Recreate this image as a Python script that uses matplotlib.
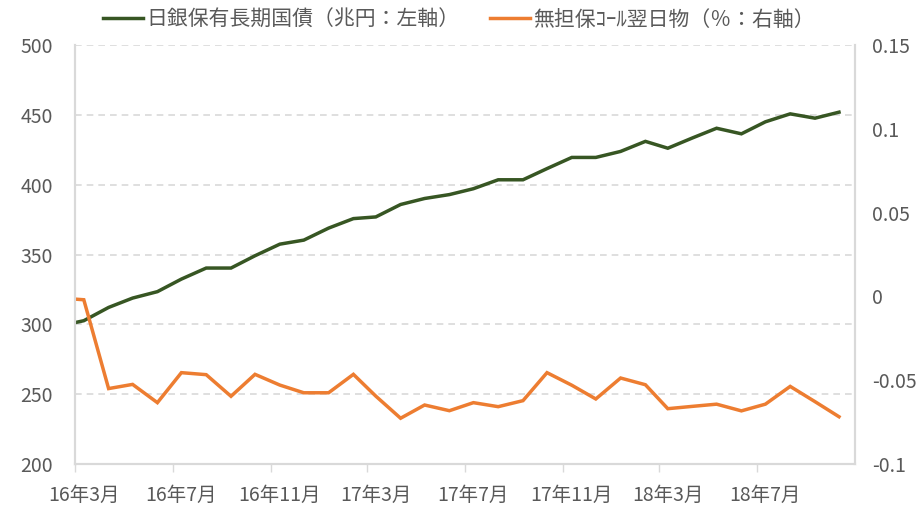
import pandas as pd
import matplotlib
matplotlib.use('Agg')
import matplotlib.pyplot as plt
from matplotlib.ticker import FixedLocator, FuncFormatter, NullFormatter
import matplotlib.dates as mdates

plt.rcParams['font.family'] = ['Noto Sans CJK JP', 'DejaVu Sans']

# 月次データ（2016年2月〜2018年10月）
months = pd.date_range('2016-02-01', '2018-10-01', freq='MS')
jgb_holdings = [299.0, 302.6, 312.1, 318.8, 323.4, 332.4, 340.3, 340.3, 349.1, 357.4,
                360.3, 368.9, 375.7, 376.9, 385.8, 390.1, 392.9, 397.1, 403.5, 403.5,
                411.5, 419.5, 419.5, 423.8, 431.0, 426.1, 433.5, 440.4, 436.4, 445.0,
                450.7, 447.6, 451.9]
call_rate = [-0.001, -0.002, -0.055, -0.0525, -0.0634, -0.0455, -0.0467, -0.0596, -0.0465,
             -0.0529, -0.0575, -0.0575, -0.0465, -0.0595, -0.0727, -0.0648, -0.0682,
             -0.0634, -0.0658, -0.0622, -0.0455, -0.053, -0.0612, -0.0487, -0.0527,
             -0.067, -0.0656, -0.0643, -0.0683, -0.0643, -0.0537, -0.0628, -0.0718]

tick_months = ['2016-03', '2016-07', '2016-11', '2017-03', '2017-07', '2017-11',
               '2018-03', '2018-07']
tick_labels = ['16年3月', '16年7月', '16年11月', '17年3月', '17年7月', '17年11月',
               '18年3月', '18年7月']

left_ticks = [200, 250, 300, 350, 400, 450, 500]
right_ticks = [-0.1, -0.05, 0, 0.05, 0.1, 0.15]

GREEN = '#375623'
ORANGE = '#ED7D31'
GRID = '#d9d9d9'
TEXT = '#595959'

# データ点は月の中ほど
dates = months + pd.Timedelta(days=11)

fig = plt.figure(figsize=(9.18, 5.08), dpi=100)
ax = fig.add_axes([75 / 918, 1 - 464 / 508, 780 / 918, 419 / 508])
ax2 = ax.twinx()

l1, = ax.plot(dates, jgb_holdings, color=GREEN, lw=2.5, solid_joinstyle='miter',
              label='日銀保有長期国債（兆円：左軸）')
l2, = ax2.plot(dates, call_rate, color=ORANGE, lw=2.5, solid_joinstyle='miter',
               label='無担保ｺｰﾙ翌日物（％：右軸）')

ax.set_xlim(pd.Timestamp('2016-03-01'), pd.Timestamp('2018-11-01'))
ax.set_ylim(200, 500)
ax2.set_ylim(-0.1, 0.15)

ax.set_yticks(left_ticks)
ax.set_yticklabels([str(v) for v in left_ticks])
ax2.set_yticks(right_ticks)
ax2.yaxis.set_major_formatter(FuncFormatter(lambda v, p: f'{round(v, 2):g}'))

# 目盛線は月初、ラベルはデータ点の位置
tick_starts = [pd.Timestamp(m + '-01') for m in tick_months]
label_pos = [t + pd.Timedelta(days=11) for t in tick_starts]
ax.xaxis.set_major_locator(FixedLocator(mdates.date2num(label_pos)))
ax.xaxis.set_major_formatter(FuncFormatter(lambda v, p: tick_labels[p] if p is not None and p < len(tick_labels) else ''))
ax.xaxis.set_minor_locator(FixedLocator(mdates.date2num(tick_starts)))
ax.xaxis.set_minor_formatter(NullFormatter())
ax.tick_params(axis='x', which='major', length=0, pad=15, labelsize=14, labelcolor=TEXT)
ax.tick_params(axis='x', which='minor', length=6, width=1, color=GRID, direction='out')

ax.tick_params(axis='y', length=0, pad=16, labelsize=14, labelcolor=TEXT)
ax2.tick_params(axis='y', length=0, pad=12, labelsize=14, labelcolor=TEXT)

ax.grid(axis='y', color=GRID, linestyle=(0, (4, 3)), linewidth=1.2)
ax.set_axisbelow(True)

for a in (ax, ax2):
    a.spines['top'].set_visible(False)
    for s in ('left', 'right', 'bottom'):
        a.spines[s].set_color(GRID)
        a.spines[s].set_linewidth(1.5)

fig.legend(handles=[l1, l2], loc='upper center', bbox_to_anchor=(0.5, 1.02), ncol=2,
           frameon=False, fontsize=15, labelcolor=TEXT, handlelength=1.9,
           handletextpad=0.15, columnspacing=1.5)

fig.savefig('out.png', dpi=100)
